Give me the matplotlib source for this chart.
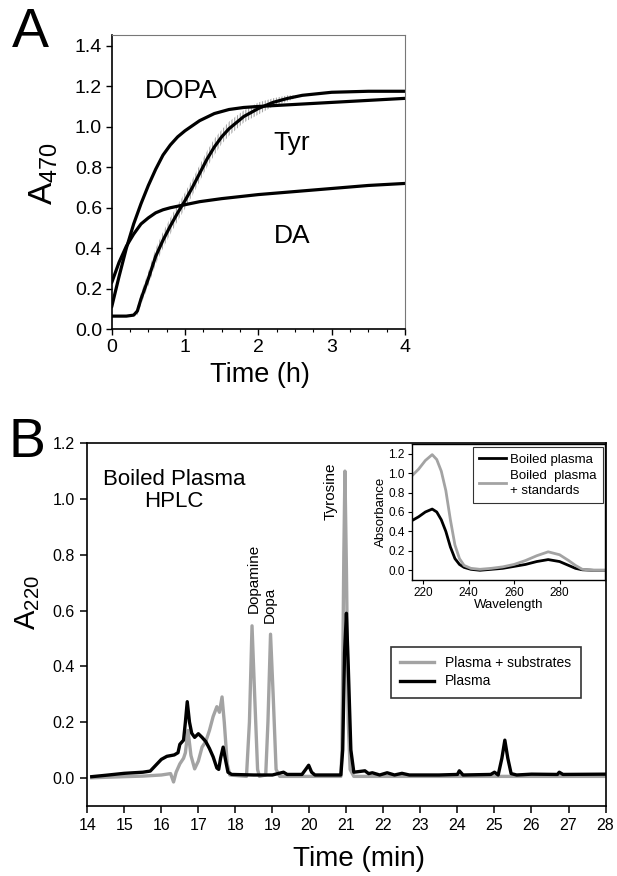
import matplotlib
matplotlib.use("Agg")
import matplotlib.pyplot as plt
import numpy as np

plt.rcParams["font.family"] = ["Liberation Sans", "DejaVu Sans"]
plt.rcParams["mathtext.fontset"] = "custom"
plt.rcParams["mathtext.rm"] = "Liberation Sans"
plt.rcParams["mathtext.it"] = "Liberation Sans:italic"
plt.rcParams["hatch.linewidth"] = 0.8

# ---- panel A: A470 kinetics ----
dopa_t = [0, 0.1, 0.2, 0.3, 0.4, 0.5, 0.6, 0.7, 0.8, 0.9, 1.0, 1.2, 1.4,
          1.6, 1.8, 2.0, 2.5, 3.0, 3.5, 4.0]
dopa_v = [0.11, 0.26, 0.40, 0.52, 0.62, 0.71, 0.79, 0.86, 0.91, 0.95, 0.98,
          1.03, 1.065, 1.085, 1.095, 1.10, 1.11, 1.12, 1.13, 1.14]

da_t = [0, 0.05, 0.1, 0.2, 0.3, 0.4, 0.5, 0.6, 0.7, 0.8, 1.0, 1.2, 1.5,
        2.0, 2.5, 3.0, 3.5, 4.0]
da_v = [0.23, 0.28, 0.33, 0.41, 0.47, 0.52, 0.55, 0.575, 0.59, 0.60, 0.615,
        0.63, 0.645, 0.665, 0.68, 0.695, 0.71, 0.72]

tyr_t = [0, 0.1, 0.2, 0.3, 0.35, 0.4, 0.5, 0.6, 0.7, 0.8, 0.9, 1.0, 1.1,
         1.2, 1.3, 1.4, 1.5, 1.6, 1.8, 2.0, 2.2, 2.4, 2.6, 3.0, 3.5, 4.0]
tyr_v = [0.065, 0.065, 0.065, 0.07, 0.09, 0.15, 0.25, 0.36, 0.44, 0.51,
         0.575, 0.635, 0.70, 0.77, 0.84, 0.90, 0.95, 0.99, 1.05, 1.09, 1.12,
         1.14, 1.155, 1.17, 1.175, 1.175]
tyr_err = [0, 0, 0, 0, 0.02, 0.03, 0.035, 0.04, 0.04, 0.04, 0.04, 0.04,
           0.04, 0.04, 0.04, 0.04, 0.035, 0.035, 0.03, 0.03, 0.02, 0.015,
           0, 0, 0, 0]

# ---- panel B: HPLC chromatograms ----
plasma_t = [14.12, 14.5, 15.0, 15.5, 15.7, 15.85, 16.0, 16.15, 16.35, 16.45,
            16.5, 16.6, 16.65, 16.7, 16.76, 16.82, 16.9, 17.0, 17.1, 17.2,
            17.3, 17.4, 17.5, 17.55, 17.6, 17.67, 17.74, 17.8, 17.9, 18.5,
            19.0, 19.3, 19.4, 19.8, 19.9, 19.98, 20.06, 20.15, 20.85, 20.9,
            20.95, 21.0, 21.05, 21.12, 21.2, 21.5, 21.6, 21.7, 21.9, 22.1,
            22.3, 22.5, 22.7, 23.5, 24.0, 24.05, 24.15, 24.9, 25.0, 25.1,
            25.2, 25.28, 25.36, 25.45, 25.6, 26.0, 26.7, 26.75, 26.85, 28.0]
plasma_v = [0.004, 0.009, 0.016, 0.020, 0.024, 0.045, 0.066, 0.077, 0.082,
            0.09, 0.12, 0.135, 0.2, 0.273, 0.2, 0.16, 0.145, 0.158, 0.145,
            0.13, 0.105, 0.075, 0.035, 0.03, 0.07, 0.11, 0.06, 0.02, 0.012,
            0.01, 0.01, 0.02, 0.012, 0.012, 0.03, 0.045, 0.02, 0.01, 0.01,
            0.1, 0.45, 0.59, 0.4, 0.1, 0.02, 0.025, 0.015, 0.018, 0.01, 0.018,
            0.01, 0.016, 0.01, 0.01, 0.012, 0.025, 0.01, 0.012, 0.02, 0.01,
            0.07, 0.135, 0.07, 0.015, 0.01, 0.013, 0.012, 0.02, 0.012, 0.013]

subs_t = [14.12, 15.0, 15.5, 16.0, 16.25, 16.33, 16.4, 16.5, 16.6, 16.65,
          16.72, 16.8, 16.9, 17.0, 17.1, 17.2, 17.3, 17.4, 17.5, 17.57,
          17.64, 17.7, 17.78, 17.85, 18.3, 18.38, 18.45, 18.52, 18.6, 18.65,
          18.82, 18.88, 18.95, 19.02, 19.1, 19.2, 20.85, 20.88, 20.93, 20.96,
          21.0, 21.05, 21.1, 21.2, 28.0]
subs_v = [0.0, 0.004, 0.006, 0.01, 0.015, -0.015, 0.02, 0.05, 0.07, 0.09,
          0.17, 0.08, 0.032, 0.06, 0.11, 0.13, 0.17, 0.22, 0.255, 0.235,
          0.29, 0.2, 0.05, 0.01, 0.005, 0.2, 0.545, 0.3, 0.03, 0.005, 0.01,
          0.2, 0.515, 0.3, 0.03, 0.005, 0.005, 0.1, 0.8, 1.10, 0.75, 0.2,
          0.03, 0.005, 0.005]

# ---- inset: UV spectra ----
wl = [215, 218, 221, 224, 226, 228, 230, 232, 234, 236, 238, 241, 245, 250,
      255, 260, 265, 270, 275, 280, 284, 287, 290, 295, 300]
boiled = [0.51, 0.55, 0.60, 0.63, 0.60, 0.52, 0.40, 0.24, 0.12, 0.06, 0.03,
          0.01, 0.0, 0.01, 0.02, 0.04, 0.06, 0.09, 0.11, 0.09, 0.05, 0.02,
          0.005, 0.0, 0.0]
boiled_std = [0.97, 1.04, 1.13, 1.19, 1.14, 1.02, 0.82, 0.52, 0.26, 0.12,
              0.05, 0.02, 0.01, 0.02, 0.035, 0.06, 0.10, 0.15, 0.19, 0.16,
              0.10, 0.05, 0.01, 0.0, 0.0]

GRAY = "#a3a3a3"

fig = plt.figure(figsize=(6.17, 8.76), dpi=100)

# panel A
ax = fig.add_axes([0.1810, 0.6241, 0.4754, 0.3360])
tt = np.array(tyr_t)
tv = np.array(tyr_v)
te = np.array(tyr_err)
ax.fill_between(tt, tv - te, tv + te, facecolor="none", edgecolor=GRAY,
                hatch="||||||", linewidth=0)
ax.plot(dopa_t, dopa_v, color="black", lw=2.3, solid_capstyle="round")
ax.plot(da_t, da_v, color="black", lw=2.3, solid_capstyle="round")
ax.plot(tyr_t, tyr_v, color="black", lw=2.3, solid_capstyle="round")
ax.set_xlim(0, 4)
ax.set_ylim(0, 1.453)
ax.set_xticks([0, 1, 2, 3, 4])
ax.set_xticks(np.arange(0, 4.01, 0.25), minor=True)
ax.set_yticks(np.arange(0, 1.41, 0.2))
ax.set_yticklabels(["%.1f" % v for v in np.arange(0, 1.41, 0.2)])
ax.tick_params(labelsize=14, direction="out", length=4, width=1, pad=3)
ax.tick_params(axis="x", which="minor", direction="out", length=2.5, width=0.8)
for s in ["left", "bottom"]:
    ax.spines[s].set_linewidth(1.2)
for s in ["top", "right"]:
    ax.spines[s].set_linewidth(0.8)
    ax.spines[s].set_color("#777777")
ax.set_xlabel("Time (h)", fontsize=19.5)
ax.xaxis.set_label_coords(0.506, -0.11)
ax.set_ylabel(r"A$_{470}$", fontsize=24)
ax.yaxis.set_label_coords(-0.175, 0.53)
ax.text(0.943, 1.177, "DOPA", fontsize=19, ha="center", va="center")
ax.text(2.455, 0.92, "Tyr", fontsize=19, ha="center", va="center")
ax.text(2.455, 0.46, "DA", fontsize=19, ha="center", va="center")

# panel B
bx = fig.add_axes([0.1415, 0.0803, 0.8399, 0.4137])
bx.plot(subs_t, subs_v, color=GRAY, lw=2.4, label="Plasma + substrates")
bx.plot(plasma_t, plasma_v, color="black", lw=2.4, label="Plasma")
bx.set_xlim(14, 28)
bx.set_ylim(-0.1, 1.2)
bx.set_xticks(range(14, 29))
bx.set_yticks(np.arange(0, 1.21, 0.2))
bx.set_yticklabels(["%.1f" % v for v in np.arange(0, 1.21, 0.2)])
bx.tick_params(labelsize=11.5, direction="out", length=5, width=1.1, pad=4)
for s in bx.spines.values():
    s.set_linewidth(1.2)
bx.set_xlabel("Time (min)", fontsize=20)
bx.xaxis.set_label_coords(0.524, -0.11)
bx.set_ylabel(r"A$_{220}$", fontsize=21)
bx.yaxis.set_label_coords(-0.088, 0.56)
bx.text(16.34, 1.03, "Boiled Plasma\nHPLC", fontsize=16, ha="center",
        va="center", multialignment="center", linespacing=1.05)
bx.text(18.49, 0.59, "Dopamine", rotation=90, fontsize=11, ha="center",
        va="bottom")
bx.text(18.94, 0.554, "Dopa", rotation=90, fontsize=11, ha="center",
        va="bottom")
bx.text(20.57, 0.925, "Tyrosine", rotation=90, fontsize=11, ha="center",
        va="bottom")
leg = bx.legend(loc="upper right", bbox_to_anchor=(0.952, 0.439),
                fontsize=10, frameon=True, fancybox=False, borderaxespad=0,
                handlelength=2.4, borderpad=0.7, labelspacing=0.3)
leg.get_frame().set_edgecolor("black")
leg.get_frame().set_linewidth(1.2)

# inset spectra
ix = fig.add_axes([0.6673, 0.3379, 0.3133, 0.1553])
ix.plot(wl, boiled, color="black", lw=2.0, label="Boiled plasma")
ix.plot(wl, boiled_std, color=GRAY, lw=2.0,
        label="Boiled  plasma\n+ standards")
ix.set_xlim(215, 300)
ix.set_ylim(-0.1, 1.3)
ix.set_xticks([220, 240, 260, 280])
ix.set_yticks(np.arange(0, 1.21, 0.2))
ix.set_yticklabels(["%.1f" % v for v in np.arange(0, 1.21, 0.2)])
ix.tick_params(labelsize=8.5, direction="out", length=3, width=0.8, pad=2)
for s in ix.spines.values():
    s.set_linewidth(1.0)
ix.set_xlabel("Wavelength", fontsize=9.5, labelpad=0)
ix.set_ylabel("Absorbance", fontsize=9.5, labelpad=1)
ileg = ix.legend(loc="upper right", bbox_to_anchor=(0.988, 0.976),
                 fontsize=9.5, frameon=True, fancybox=False, borderaxespad=0,
                 handlelength=2.0, borderpad=0.5, labelspacing=0.3,
                 handletextpad=0.3)
ileg.get_frame().set_edgecolor("black")
ileg.get_frame().set_linewidth(0.8)
for txt in ileg.get_texts():
    txt.set_linespacing(1.3)

# panel letters
fig.text(30 / 617, 1 - 33 / 876, "A", fontsize=40, ha="center", va="center")
fig.text(27 / 617, 1 - 443 / 876, "B", fontsize=40, ha="center", va="center")

fig.savefig("out.png", dpi=100)
